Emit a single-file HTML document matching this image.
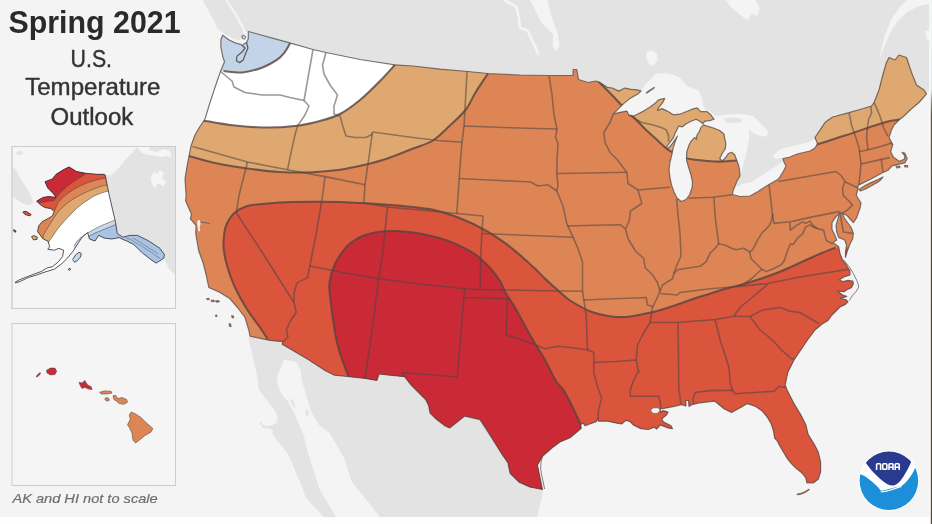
<!DOCTYPE html>
<html><head><meta charset="utf-8"><title>Spring 2021 U.S. Temperature Outlook</title>
<style>html,body{margin:0;padding:0;background:#fff;}body{width:932px;height:524px;overflow:hidden;}svg{display:block;font-family:"Liberation Sans",sans-serif;}</style></head><body>
<svg width="932" height="524" viewBox="0 0 932 524">
<defs>
<filter id="soft" x="-2%" y="-2%" width="104%" height="104%"><feGaussianBlur stdDeviation="0.5"/></filter>
<clipPath id="us"><path d="M222.7 35.2 L228.7 39.7 L235.1 42.9 L240.6 44.3 L242.4 45.7 L244.5 43.5 L246.5 42.5 L248.3 38.8 L248.3 31.5 L269.7 37.3 L289.6 42.9 L313 49.5 L326 52.5 L360 59.5 L395 64.8 L413 66 L440 69.2 L468 71.5 L488 73.5 L520 75 L549 75.5 L573 75.3 L573.2 69.5 L576.8 69.5 L578.5 79.5 L588 82.5 L596 81 L600 82.4 L607.5 87.4 L612.4 88 L618.7 91.1 L624.9 88 L631.1 89.3 L637.3 89.9 L641.1 91.1 L637.3 94.3 L629.9 98.6 L623.6 103.6 L618.7 108.6 L613.1 114.2 L619.9 112.3 L626.8 111.1 L628.6 114.8 L633.6 116 L637.3 114.2 L643.6 111.1 L649.8 107.3 L654.8 103.6 L658.5 99.9 L664.7 98.4 L662.9 102.3 L658.5 107.9 L657.3 110.4 L662.2 108.6 L667.2 111.1 L673.4 114.8 L679.7 114.2 L685.9 111.7 L692.1 109.2 L697.1 107.9 L700.8 111.7 L707 111.7 L710.8 114.8 L714.1 119.3 L709.8 120.6 L704.8 121.2 L702.9 123.7 L699.8 121.2 L696.1 119.3 L691.1 121.2 L686.1 123.7 L682.4 126.8 L678.6 126.2 L676.8 129.9 L674.9 133.6 L673.7 137.4 L669.9 142.3 L666.2 147.3 L668.1 148.6 L672.4 143.6 L676.2 138 L677.4 136.1 L674.9 142.3 L673 148.6 L671.8 154.8 L670 162 L669 170 L670 178 L671.5 185 L674 192 L677 198 L681.2 201.5 L686 199.5 L689.5 195 L692 188 L692.5 182 L691 175 L688.5 167 L686.5 160 L686.7 152.3 L688.6 146.1 L691.1 141.1 L694.8 137.4 L696.3 139.5 L697 135 L699.2 131.8 L701 127.4 L703.5 124.9 L707.3 126.2 L713.5 128 L719.7 130.5 L724.1 134.3 L724.7 138.6 L725.9 143.6 L725.3 148.6 L722.2 153.5 L719.7 158.5 L722.2 161 L725.9 157.3 L728.4 153.5 L731.5 152.3 L734.7 154.8 L736.5 159.8 L738.4 164.7 L739.6 170 L740 176 L737 181 L735 186 L733 191 L732.5 194.5 L740 196.5 L750 196 L758 191.5 L765 187 L769 184.5 L778.5 179 L783 172 L786 166 L784 162 L783 158.5 L790 157 L797 154 L810 151 L815 148 L817.5 143.7 L815 137.5 L819.8 130.4 L825.5 121.9 L832.6 117 L849 112.7 L860 109.5 L871.5 106 L874 102.5 L879 90 L882.8 75 L886.5 62.5 L889 57.5 L895 60 L899 55 L906.5 57.5 L911.5 72.5 L916.5 85 L924 90 L926.5 93.8 L919 102.5 L911.5 108.8 L904 116 L899 120 L894 125 L891.5 130 L889 137.5 L892.8 144.6 L890.7 151.7 L893.5 157.3 L899.2 161.3 L904.3 159.2 L905 156 L902 152.4 L904.8 153.2 L907.2 158.5 L905 162.8 L897.7 164.4 L892.1 165.8 L890 168 L887.8 170.5 L883 172.5 L871 179 L858 185.4 L858 188 L856.3 195.5 L861 203 L860.1 208 L856.8 217.4 L853.4 222.7 L850.5 219.5 L847 215.5 L842 213.4 L844.7 218.7 L848.7 224 L851.4 228 L853.4 233.4 L852.7 238.7 L850 244.1 L847.4 250.8 L845.4 257.4 L845.6 250.8 L846.6 245.4 L844.7 240 L838.7 237.4 L836.7 232 L836 225.4 L838 218.7 L839.4 213.4 L835.4 217.4 L832 222.7 L832 229.4 L834.7 234.7 L836.7 240 L833 242.5 L838.7 246.8 L840 253.4 L842 258.8 L844.7 262.8 L846.8 265.7 L850 271 L850 275 L844 277 L839.4 279.7 L842.7 281.7 L848 280.4 L852.8 281 L853.4 283.7 L851.4 287.7 L846.8 289.7 L844 291.7 L837.4 291 L842.7 295 L846.8 296.4 L840 298.4 L846 299.7 L848 301.8 L845.4 304.4 L840 307 L836 311 L832 315 L828 320.5 L822.5 323.8 L815 330 L807.5 340 L802.5 347.5 L794 360 L787.8 372.5 L785.2 385 L787.1 389.9 L793.3 402.3 L800.8 414.7 L805.8 424.7 L808.2 434.6 L814.4 444.5 L818.2 452 L820.6 461.9 L820.6 471.8 L818.2 479.3 L813.2 483 L807 483 L805.8 478 L802 473 L795.8 468.1 L790.9 463.1 L787.1 458.2 L783.4 452 L779.7 445.8 L777.2 440.8 L774.7 438.3 L773.5 430.9 L771 423.4 L767.3 417.2 L762.3 411 L754.9 406.1 L747.4 403.6 L741.5 407 L731.5 412.5 L724 408.8 L715 401.2 L710 401.6 L698.1 403.1 L692 404.6 L689 406.5 L688.5 400.5 L685.8 400.5 L686 406 L681.5 404.6 L675.5 406.1 L668 407.6 L660.4 409 L660.4 412.1 L663.4 410.6 L668 412.1 L666.4 415.1 L661.9 418.9 L663.4 421.9 L671 425.7 L672.5 428.7 L668 427.9 L660.4 424.9 L656.6 429 L654.4 427.2 L648.4 429.5 L640.8 428.7 L633.3 424.9 L630 421.5 L625.8 420.4 L622 423.8 L618.2 423.4 L607.7 421.2 L598.5 421.2 L597.6 418.2 L596.6 421.4 L585 425.7 L583.3 423.2 L580.8 424.5 L581.2 428.2 L579 430.2 L570 437.7 L560 442 L552.5 447.5 L542.5 456.2 L537.5 465 L540 477.5 L542.5 489.5 L529.7 486.9 L519.2 482.3 L510.1 473.3 L507.9 462.7 L502.6 455.2 L495.1 443.2 L487.5 431.1 L480 419.6 L464.7 416.1 L457.2 422.1 L449.7 428 L445.2 425.9 L436.1 419.1 L430.1 413.1 L428.6 405.6 L425.6 399.6 L418.1 392 L410.6 384.5 L404.6 376.7 L390 375.2 L379 374 L376.9 380.4 L365.3 378.4 L347.3 376.5 L334.4 375.2 L325.4 370.7 L308.6 359.8 L282.2 344.3 L282.9 341.7 L270 340.4 L250 336.2 L248.8 330 L245 317.5 L237.5 307.5 L230 298.8 L220 292.5 L208.8 287.5 L206.2 275 L203 262.5 L198.8 251 L196.6 238.9 L195.7 233.2 L196.1 225.5 L193.7 222.7 L190.4 218.9 L191.4 214.1 L188.5 207.4 L185.6 200.7 L186.1 195 L185 178.5 L187.5 163.5 L191 146 L195 135 L199 128 L205 119 L210 102.5 L217.5 80 L220.4 71.8 L222.7 66.3 L224.5 61.7 L222.7 56.2 L220.9 47.1 L220.9 39.7Z M859 189.5 L865 185.5 L871 182.6 L878 179.5 L883 177 L880 180.5 L878.5 181.7 L872 185.5 L865.5 189 L860.5 191Z M896 166.3 L899.5 166 L900 167.5 L897 168Z M904.5 165.5 L907.5 165.5 L907.8 167 L905 167Z"/></clipPath>
<clipPath id="map"><rect x="-6" y="-6" width="935.5" height="523"/></clipPath>
<clipPath id="akbox"><rect x="12" y="146.5" width="163.5" height="162"/></clipPath>
<clipPath id="ak"><path d="M69.1 166.9 L76.5 171.5 L85.8 173.3 L96.9 174.3 L104.3 174.3 L105.2 175.2 L108.9 193.7 L113.6 214.1 L115.4 221.5 L117.3 233.5 L122.8 237.2 L130.2 235.4 L137.6 235.4 L148.7 240.9 L159.9 248.3 L164.5 254.8 L163.5 258.5 L156.1 263.1 L150.6 259.4 L141.3 252 L133.9 244.6 L126.5 240.9 L122.8 239.4 L119.1 237.6 L111.7 239 L104.3 238.1 L98.7 235.4 L95 241 L89.5 239 L87.6 232.6 L82.1 237.2 L78.4 242.8 L72.8 251.5 L67.3 258.2 L61.7 263.8 L54.3 269.2 L45 272 L36 275.2 L28.4 277.5 L20 281.5 L15.4 283 L15.4 282 L19.1 280 L26.5 277 L33.9 274.2 L41.3 271.5 L46.9 268 L52.4 266.8 L58 262.2 L62.6 256.7 L63.6 250.2 L58.9 248.3 L54.3 250.2 L47.8 249.3 L49.7 246.5 L47.8 241 L43.2 239 L37.6 231.7 L38.6 226.1 L42.3 221.5 L47.8 218.7 L52.4 215.9 L54.3 211.3 L50.6 208.5 L45 207.6 L40.4 204.8 L36.7 201.1 L43.2 197.4 L48.7 196.5 L56.1 197.4 L53.4 193.7 L47.8 188.1 L45 181.7 L52.4 178.9 L56.1 174.3 L63.6 169.6Z M72.7 259.5 L75.5 255 L79 252.3 L81.3 253.5 L80.5 257 L77.5 260.5 L74.5 262.3Z M22.8 212 L26 211.3 L31.1 214.5 L30 215.9 L25 214.5Z M13.4 229.8 L15.6 230.4 L16 232.2 L14 231.6Z M31.5 236.6 L34 235.6 L37.3 237 L37 239.4 L33.5 239.9Z M68.3 269 L70 268.3 L70.6 269.6 L69 270.4Z"/></clipPath>
</defs>
<rect width="932" height="524" fill="#fefefe"/>
<g filter="url(#soft)">
<rect x="-6" y="-6" width="944" height="536" fill="#fefefe"/>
<g clip-path="url(#map)">
<rect x="-6" y="-6" width="944" height="536" fill="#f4f4f4"/>
<path d="M199 -6 L938 -6 L938 88 L932 88 L926.5 92.5 L915 100 L880 110 L850 120 L835 125 L822 128 L819 133 L816.2 137.8 L809.3 142 L798.1 144.8 L787 147.6 L778.6 150.3 L773 155.9 L775.8 158.7 L783.5 158 L785.6 160.1 L778.6 164.3 L770.2 169.9 L761.8 175.4 L750.7 182.4 L742.3 183.8 L738 187 L736 185 L737.5 180 L740.9 174 L743 165.7 L746.5 153 L748 145 L749.5 136.8 L748.8 129.9 L753 132.7 L758.6 135.4 L765.6 136.8 L769 132.7 L765.6 128.5 L758.6 121.5 L753 116 L741.8 113.8 L727.9 114.5 L715.3 116 L712 113 L708 110.5 L707 111.7 L703.3 106.1 L702.1 97.4 L698.3 89.9 L687.1 86.2 L680.9 78.7 L674.7 75 L664.7 73.1 L656 73.7 L649.8 79.9 L644.8 84.9 L641.1 91.1 L630 95 L600 90 L575 82 L573 78 L500 80 L400 70 L300 50 L248 36 L247.9 31.7 L244.5 33 L243 37 L240 40.5 L234 39 L226 34.5 L218 29 L212 17 L207 8 L202.5 0Z" fill="#e3e3e3"/>
<path d="M248.7 338.8 L250 330 L300 330 L400 360 L470 410 L536 482 L543.4 489.7 L540 505 L537 517 L380 517 L368 502 L352 482 L344 458 L330 433.6 L319.1 425.1 L311.5 412.2 L307.3 399.3 L305.1 390.7 L301.5 380 L301 370 L296 362 L284 359.5 L277.8 375 L277.2 380 L278.3 386.4 L281.5 394 L287.9 401.5 L293.3 411.1 L296.5 418.6 L299.7 426.1 L304 436 L306 446 L312 466 L320 490 L336 517 L324 517 L306 498 L300 482 L288 454 L272 434 L273 430 L270 428.5 L263 428 L259.5 423 L260.5 421.5 L264 425.5 L270 426 L276.5 423 L277.7 417.6 L275.1 411.1 L269.7 403.6 L263.3 396.1 L258.4 388.6 L257.9 380 L254 362Z" fill="#e3e3e3"/>
<path d="M722 -6 L725.7 0 L731.7 8 L741.6 16 L747.6 20 L751.6 14 L757.6 16 L759.6 8 L755.6 0 L754 -6Z" fill="#f4f4f4"/>
<path d="M647 52 L652 50 L657 54 L657.5 61 L653 66 L648 63 L646 57Z" fill="#f4f4f4"/>
<path d="M528 -6 L546 -6 L547.4 0 L552 18.4 L557.7 33.3 L559.5 45.9 L555.4 51.7 L552.6 45.9 L553.1 34.4 L548.6 29.9 L541.7 23 L535.9 11.5 L530.2 0Z" fill="#f4f4f4"/>
<path d="M912 -6 L907 0 L899 8 L891 20 L885 35 L880 55 L879 60 L883 50 L889 35 L897 22 L907 12 L919 6 L932 3 L938 2 L938 -6Z" fill="#f4f4f4"/>
<path d="M925 31 L932 30 L932 41 L927 40Z" fill="#f4f4f4"/>
<path d="M222 -6 L226.1 0 L236.1 14.9 L243.5 28.6 L246 36.1" fill="none" stroke="#f4f4f4" stroke-width="2.2" stroke-linecap="round" stroke-linejoin="round"/>
<path d="M500 -4 L506 1 L516.4 6.9 L518.7 17.2 L519.9 27.6 L527.9 31 L531.3 39 L535.9 48.2 L538.2 54" fill="none" stroke="#f4f4f4" stroke-width="2.6" stroke-linecap="round" stroke-linejoin="round"/>
<path d="M817.5 136 L823 127.5 L829 120.5 L836 114.5" fill="none" stroke="#f4f4f4" stroke-width="1.6" stroke-linecap="round" stroke-linejoin="round"/>
<path d="M290 399.5 L291.5 398.8 L294 402 L295.6 407 L294.5 408 L292 404.5Z" fill="#e3e3e3"/>
<path d="M305.2 410 L307.5 409 L309 412.5 L308 416.5 L305.8 415Z" fill="#e3e3e3"/>
<path d="M723.7 119 L730 117.5 L738 118 L743.2 120 L740 122.5 L732 122.9 L726 122Z" fill="#e3e3e3"/>
<g clip-path="url(#us)">
<rect width="932" height="524" fill="#de8556"/>
<path d="M189 156 C193.8 157.2 207.8 161.4 217.5 163.5 C227.2 165.6 237.1 167.1 247.5 168.5 C257.9 169.9 269.2 171.4 280 172 C290.8 172.6 302.5 172.7 312.5 172.3 C322.5 171.9 331.2 171 340 169.8 C348.8 168.5 357.1 166.6 365 164.8 C372.9 162.9 379.5 161.2 387.5 158.5 C395.5 155.8 405.4 151.5 413 148.5 C420.6 145.5 426.8 144.4 433 140.5 C439.2 136.6 445.1 130.1 450.5 125 C455.9 119.9 461.3 115.4 465.5 110 C469.7 104.6 471.8 98.6 475.5 92.5 C479.2 86.4 485.9 76.7 488 73.5 L488 0 L150 0 L150 156Z" fill="#dfa86f"/>
<path d="M203 120.5 C207.5 121.2 220.1 123.8 230 125 C239.9 126.2 251.7 127.3 262.5 127.5 C273.3 127.7 285.4 127.1 295 126 C304.6 124.9 312.5 123 320 121 C327.5 119 333.3 117.5 340 114 C346.7 110.5 353.3 105.5 360 100 C366.7 94.5 374.2 86.9 380 81 C385.8 75.1 392.5 67.5 395 64.8 L395 0 L150 0 L150 120Z" fill="#ffffff"/>
<path d="M223.5 71 C226.7 71.2 236 73.1 242.5 72.5 C249 71.9 256.7 69.6 262.5 67.5 C268.3 65.4 273.4 62.2 277.1 59.7 C280.8 57.2 282.4 55.1 284.6 52.3 C286.8 49.5 289.3 44.5 290.2 42.9 L290 0 L150 0 L150 71Z" fill="#c4d4e8"/>
<path d="M598 81 C600.4 83.4 608.5 91.5 612.4 95.5 C616.3 99.5 617.7 101.2 621.2 104.8 C624.7 108.4 629.5 113.1 633.6 117.3 C637.8 121.5 642.5 126.5 646.1 130 C649.7 133.4 651.9 135.1 655 138 C658.1 140.9 662.3 145 665 147.3 C667.7 149.6 667.8 149.9 671.2 151.7 C674.6 153.5 681.6 156.6 685.5 157.9 C689.4 159.2 691.2 159.3 694.8 159.8 C698.4 160.3 703.1 160.7 707.3 161 C711.4 161.3 716 161.6 719.7 161.6 C723.4 161.6 726.8 161.2 729.7 161 C732.6 160.8 732.2 160.7 737.2 160.4 C742.2 160.1 751.2 160.4 760 159 C768.8 157.6 780.8 154.3 790 152 C799.2 149.7 807.2 147.3 815 145 C822.8 142.7 830 140.3 836.5 138.2 C843 136.1 847.5 134.7 853.8 132.6 C860 130.5 868.1 127.7 874 125.8 C879.9 123.9 884.7 122.4 889 121.3 C893.3 120.2 898.2 119.7 900 119.4 L932 119 L932 0 L598 0Z" fill="#dfa86f"/>
<path d="M267.5 339 C266.2 337.1 263.3 332.3 260 327.5 C256.7 322.7 251.7 316.7 247.5 310 C243.3 303.3 238.3 294.6 235 287.5 C231.7 280.4 229.4 273.8 227.5 267.5 C225.6 261.2 224.4 254.8 223.8 250 C223.1 245.2 223.4 242.5 223.8 238.5 C224.1 234.5 224.3 230.2 226 226 C227.7 221.8 230.2 216.8 233.8 213.5 C237.3 210.2 241.9 207.7 247.5 206 C253.1 204.3 260 204.2 267.5 203.5 C275 202.8 283.3 202.3 292.5 202 C301.7 201.7 312.1 201.6 322.5 201.8 C332.9 201.9 344.2 202.2 355 202.8 C365.8 203.2 377.8 204 387.5 204.8 C397.2 205.5 405.4 206.2 413 207 C420.6 207.8 426.8 208.5 433 209.8 C439.2 211 444.3 212.6 450.5 214.8 C456.7 216.9 464.7 220.2 470 222.5 C475.3 224.8 478.4 226.6 482.2 228.6 C486 230.6 488.9 232.2 492.7 234.6 C496.5 237 501 240.2 504.8 242.9 C508.6 245.7 511.8 248.2 515.3 251.1 C518.8 254 522.3 257.1 525.8 260.2 C529.3 263.3 533.1 266.9 536.4 270 C539.7 273.1 542.4 276.1 545.4 279 C548.4 281.9 551.7 284.8 554.5 287.3 C557.3 289.8 559.4 291.8 562 294 C564.6 296.2 565.3 297.6 570 300.5 C574.7 303.4 583.3 308.6 590 311.2 C596.7 313.9 604 315.3 610 316.2 C616 317.2 621 317.3 626 317 C631 316.7 635.1 315.6 640 314.7 C644.9 313.8 650.1 312.8 655.1 311.5 C660.1 310.2 665.1 308.6 670.1 307 C675.1 305.4 680.2 303.4 685.2 301.7 C690.2 300 695.3 298.2 700.3 296.6 C705.3 295 710.3 293.4 715.3 291.9 C720.3 290.4 725.4 289 730.4 287.6 C735.4 286.2 740.5 284.9 745.5 283.4 C750.5 281.9 754.9 280.7 760.6 278.8 C766.4 276.9 772.5 274.9 780 271.8 C787.5 268.7 798.7 263.4 805.5 260.3 C812.3 257.2 815.6 255.6 820.6 253.5 C825.6 251.4 833.1 248.5 835.6 247.5 L932 246 L932 524 L267 524Z" fill="#db543e"/>
<path d="M348.8 377 C348.2 375.4 346.6 372 345 367.5 C343.4 363 340.7 355.8 339 350 C337.3 344.2 336.4 340.8 335 332.5 C333.6 324.2 331.4 308.3 330.5 300 C329.6 291.7 328.8 288.3 329.5 282.5 C330.2 276.7 332.2 270.2 334.5 265 C336.8 259.8 340.4 254.6 343 251 C345.6 247.4 346.8 246 350 243.5 C353.2 241 357.9 237.9 362.5 236 C367.1 234.1 372.1 232.8 377.5 232 C382.9 231.2 389.1 230.9 395 231 C400.9 231.1 407.7 231.8 413 232.5 C418.3 233.2 422.5 234 427 235 C431.5 236 435.3 236.9 440 238.3 C444.7 239.7 450 241.5 455 243.6 C460 245.7 465.8 248.6 470.1 251.1 C474.4 253.6 477.2 255.7 480.7 258.7 C484.2 261.7 487.9 265.4 491.2 269.2 C494.4 273 497.7 277.2 500.2 281.3 C502.7 285.4 503.8 289.5 506.3 293.9 C508.8 298.3 511.1 300.6 515 307.5 C519 314.4 525 326.2 530 335 C535 343.8 540.7 352.3 545 360 C549.3 367.7 552.7 375.6 556 381 C559.3 386.4 561.4 386.4 565 392.5 C568.6 398.6 574.8 411.8 577.5 417.5 C580.2 423.2 580.8 425.4 581.5 427 L581 524 L348 524Z" fill="#c92b35"/>
<g fill="none" stroke="#4a4644" stroke-opacity="0.55" stroke-width="1.6" stroke-linejoin="round">
<path d="M220 71 L226 76 L232 81 L234 87 L245 92.5 L262 95 L280 95 L290 97.5 L304 100.5"/>
<path d="M313 49.5 L308.5 75 L304 100.5"/>
<path d="M304 100.5 L309 106 L305 115 L297.5 126 L295 135 L290.5 155 L287.5 169.8"/>
<path d="M326 52.5 L322.5 65 L324 74 L330 85 L337.5 95 L334 106 L334 114 L340 116 L342.5 125 L346 136 L355 137.5 L366 137.5 L372.5 134"/>
<path d="M372.5 132 L368.5 160 L365 184.8 L363.8 203"/>
<path d="M372.5 132 L413 137.5 L438 140.5 L462 142.3"/>
<path d="M192.5 146.5 L247.5 162 L287.5 169.8 L325 176.6 L365 184.8"/>
<path d="M247.5 162 L239.1 195 L236.3 212.8 L263.8 255 L294 302.5"/>
<path d="M325 176.6 L322.7 195 L316.5 232 L312 255 L309.8 266 L307.5 277.6 L297 282.9 L294 292.7 L294 302.5"/>
<path d="M294 302.5 L296.2 312.3 L290.2 321.3 L286.4 330.3 L288 337 L282.9 341.7"/>
<path d="M363.8 203 L387.5 207 L456.8 213.5"/>
<path d="M387.5 207 L385 231 L382.5 255 L378.8 278.8"/>
<path d="M309.8 266 L345 273 L378.8 278.8 L420 284 L465 288.8 L480 289.5 L507.5 290 L545 290.8 L582.5 291.2"/>
<path d="M378.8 278.8 L372 330 L365.3 378.4"/>
<path d="M467 71.5 L465.5 100 L464 126 L462 142.3 L460.5 160 L459.2 178.5 L456.8 213.5"/>
<path d="M464 126 L510 127.8 L557 129"/>
<path d="M459.2 178.5 L500 180.5 L530.5 182 L538 186 L548 184.8 L556.8 191"/>
<path d="M456.8 213.5 L483 216 L481.8 233.5"/>
<path d="M481.8 233.5 L530 235.5 L573 237.2"/>
<path d="M481.8 233.5 L480.5 262 L480 289.5"/>
<path d="M549 75.5 L552 95 L554 115 L557 129 L555.5 137.5 L558 143.5 L557 160 L556.8 173.5 L558 184.8 L556.8 191 L563 206 L566.8 223.5 L573 237.2 L578 248.5 L582.5 262 L582.5 291.2"/>
<path d="M556.8 173.5 L590 173 L626.5 172.2"/>
<path d="M566.8 226 L595 225.3 L620.5 224.8 L625.5 229"/>
<path d="M613.1 114.2 L610 122.5 L603.8 132.5 L605 142.5 L610 152.5 L617.5 160 L625 170 L626.8 172.2"/>
<path d="M626.8 172.2 L628 183.5 L638 190 L641.8 203.5 L630.5 211 L629.2 221 L625.5 229 L628 238.5 L635.5 251 L643.8 258.5 L645 267.5 L652.5 275 L657.5 282.5 L660 291.2 L656.2 300 L652.5 307.5 L650 322.5 L642.5 335 L637.5 345 L636.2 360 L638.8 372.5 L637.5 372.5 L632.5 383 L630.3 390 L630.3 396.3 L658.9 396.3 L661.2 408"/>
<path d="M638 190 L655 188.5 L670 187.2"/>
<path d="M628.6 114.8 L641.1 122.3 L652.3 124.7 L661.2 127.4 L666.2 129.9 L668.7 136.1 L668.5 141.5"/>
<path d="M676.5 199 L678.5 220 L680 233.5 L681 256 L677.5 263.5 L673.8 273.5"/>
<path d="M688.5 198.2 L712.5 197.2 L732.5 194.8"/>
<path d="M713.8 197.2 L715.5 220 L718.8 243.8"/>
<path d="M773 214 L771 222 L769.3 225.6 L761.8 233.2 L757.3 240.7 L752.7 249.7 L749.7 252 L743.7 248.2 L736.2 249.7 L731.6 248.2 L725.6 245.2 L718.8 243.7 L715.1 248.2 L710.5 252.7 L706 261.8 L700 266.3 L695 267 L685 268.5 L677.5 269.8 L673.8 273.5 L672.5 278.8 L662.5 285 L660 291.2"/>
<path d="M769 184.5 L770.8 200 L772.3 213.5 L773.8 223.4"/>
<path d="M773.8 223.4 L790.4 221.8 L810 217.4 L838.7 211.6 L842 213.4"/>
<path d="M778.5 181.5 L810 176 L836 171.5 L841.5 176"/>
<path d="M841.5 176 L845 181.7 L842.5 188 L843.3 195.5 L849 201 L852.5 205 L847 210.4 L842 213.4"/>
<path d="M845 181.7 L858 188"/>
<path d="M859 184.4 L861 164 L859 147.5 L855 135 L851.5 125 L849 112.5"/>
<path d="M861 164 L881.3 159.4 L889.6 157.6"/>
<path d="M881.3 159.4 L883 172"/>
<path d="M858.8 151.7 L869.4 149.5 L882.2 146 L890.7 143.2 L892.8 144.6"/>
<path d="M870.8 106.3 L871.5 113.4 L868.7 119 L867.7 125.5 L866.6 137.5 L868 149.8"/>
<path d="M873.7 102.1 L876.5 107.7 L880 116.2 L883.6 127.6 L887.8 136.1"/>
<path d="M749.7 252 L751.2 258.8 L757.3 264.8 L761.8 269.3 L757 273.5 L751.2 279 L745 283 L738.8 286.5"/>
<path d="M761.8 269.3 L766.3 271.6 L772.3 269.3 L781.4 264.8 L784.4 260.3 L787.4 251.2 L790.4 243.7 L793 244.5 L798 237.7 L802.5 233.9 L805.5 227.1 L810 224.9 L813 227.1 L817.5 228.6"/>
<path d="M789.7 222.6 L790.4 230.1 L796.4 225.6 L802.5 221.9 L805.5 223.4 L810 221.1 L813 225.5 L817.5 228.6"/>
<path d="M817.5 228.6 L823.6 230.1 L825.1 236.2 L826.6 240.7 L832.6 243.7"/>
<path d="M840 213.4 L843.4 232 L852.7 233.4"/>
<path d="M660 293.5 L677.5 295 L680 292.5 L710 288.7 L738.8 286.5 L767.5 283.5 L800 277 L848.5 269.3"/>
<path d="M767.5 284.5 L755 295 L740 307.5 L733.8 316.2"/>
<path d="M650 322.5 L677.5 322.5 L715 319.5 L733.8 316.2"/>
<path d="M733.8 316.2 L750 316.5 L762.5 310 L780 307.5 L790 311.2 L800 312.5 L818.8 323.5"/>
<path d="M750 316.5 L760 330 L772.5 340 L781.5 350 L791.5 358.8 L795 359"/>
<path d="M678 322.5 L678.5 360 L678.8 388 L680.8 404"/>
<path d="M715 319.5 L720.2 340 L725 355 L729 367.5 L730.2 382.5 L732.5 391"/>
<path d="M693.8 404 L693 399 L695.1 392.5 L710 390.6 L732.5 390.2 L735 393.8 L774 391.2 L779 386.2 L785.5 387.5"/>
<path d="M583.8 300 L620 298.5 L646.2 297.5 L647.5 305 L653 306.5"/>
<path d="M582.5 291.2 L583.8 300 L586.2 315 L587.5 350"/>
<path d="M593.8 362.5 L615 361.5 L636.2 360"/>
<path d="M587.5 350 L593.8 352.5 L593.8 372.5 L597.1 385 L601.6 398.6 L598.6 409.1 L597.9 419.7"/>
<path d="M506.2 335 L515 337.5 L532.5 343.8 L545 348.8 L557.5 346.2 L570 347.5 L580 348.8 L587.5 350"/>
<path d="M465 288.8 L463.8 297.5 L507.5 298.8 L506.2 335"/>
<path d="M463.8 297.5 L461 335 L459.4 350 L457.2 377 L402.3 372.5 L404.6 376.7"/>
</g>
<g fill="none" stroke="#5a443e" stroke-opacity="0.82" stroke-width="2.05">
<path d="M223.5 71 C226.7 71.2 236 73.1 242.5 72.5 C249 71.9 256.7 69.6 262.5 67.5 C268.3 65.4 273.4 62.2 277.1 59.7 C280.8 57.2 282.4 55.1 284.6 52.3 C286.8 49.5 289.3 44.5 290.2 42.9"/>
<path d="M203 120.5 C207.5 121.2 220.1 123.8 230 125 C239.9 126.2 251.7 127.3 262.5 127.5 C273.3 127.7 285.4 127.1 295 126 C304.6 124.9 312.5 123 320 121 C327.5 119 333.3 117.5 340 114 C346.7 110.5 353.3 105.5 360 100 C366.7 94.5 374.2 86.9 380 81 C385.8 75.1 392.5 67.5 395 64.8"/>
<path d="M189 156 C193.8 157.2 207.8 161.4 217.5 163.5 C227.2 165.6 237.1 167.1 247.5 168.5 C257.9 169.9 269.2 171.4 280 172 C290.8 172.6 302.5 172.7 312.5 172.3 C322.5 171.9 331.2 171 340 169.8 C348.8 168.5 357.1 166.6 365 164.8 C372.9 162.9 379.5 161.2 387.5 158.5 C395.5 155.8 405.4 151.5 413 148.5 C420.6 145.5 426.8 144.4 433 140.5 C439.2 136.6 445.1 130.1 450.5 125 C455.9 119.9 461.3 115.4 465.5 110 C469.7 104.6 471.8 98.6 475.5 92.5 C479.2 86.4 485.9 76.7 488 73.5"/>
<path d="M598 81 C600.4 83.4 608.5 91.5 612.4 95.5 C616.3 99.5 617.7 101.2 621.2 104.8 C624.7 108.4 629.5 113.1 633.6 117.3 C637.8 121.5 642.5 126.5 646.1 130 C649.7 133.4 651.9 135.1 655 138 C658.1 140.9 662.3 145 665 147.3 C667.7 149.6 667.8 149.9 671.2 151.7 C674.6 153.5 681.6 156.6 685.5 157.9 C689.4 159.2 691.2 159.3 694.8 159.8 C698.4 160.3 703.1 160.7 707.3 161 C711.4 161.3 716 161.6 719.7 161.6 C723.4 161.6 726.8 161.2 729.7 161 C732.6 160.8 732.2 160.7 737.2 160.4 C742.2 160.1 751.2 160.4 760 159 C768.8 157.6 780.8 154.3 790 152 C799.2 149.7 807.2 147.3 815 145 C822.8 142.7 830 140.3 836.5 138.2 C843 136.1 847.5 134.7 853.8 132.6 C860 130.5 868.1 127.7 874 125.8 C879.9 123.9 884.7 122.4 889 121.3 C893.3 120.2 898.2 119.7 900 119.4"/>
<path d="M267.5 339 C266.2 337.1 263.3 332.3 260 327.5 C256.7 322.7 251.7 316.7 247.5 310 C243.3 303.3 238.3 294.6 235 287.5 C231.7 280.4 229.4 273.8 227.5 267.5 C225.6 261.2 224.4 254.8 223.8 250 C223.1 245.2 223.4 242.5 223.8 238.5 C224.1 234.5 224.3 230.2 226 226 C227.7 221.8 230.2 216.8 233.8 213.5 C237.3 210.2 241.9 207.7 247.5 206 C253.1 204.3 260 204.2 267.5 203.5 C275 202.8 283.3 202.3 292.5 202 C301.7 201.7 312.1 201.6 322.5 201.8 C332.9 201.9 344.2 202.2 355 202.8 C365.8 203.2 377.8 204 387.5 204.8 C397.2 205.5 405.4 206.2 413 207 C420.6 207.8 426.8 208.5 433 209.8 C439.2 211 444.3 212.6 450.5 214.8 C456.7 216.9 464.7 220.2 470 222.5 C475.3 224.8 478.4 226.6 482.2 228.6 C486 230.6 488.9 232.2 492.7 234.6 C496.5 237 501 240.2 504.8 242.9 C508.6 245.7 511.8 248.2 515.3 251.1 C518.8 254 522.3 257.1 525.8 260.2 C529.3 263.3 533.1 266.9 536.4 270 C539.7 273.1 542.4 276.1 545.4 279 C548.4 281.9 551.7 284.8 554.5 287.3 C557.3 289.8 559.4 291.8 562 294 C564.6 296.2 565.3 297.6 570 300.5 C574.7 303.4 583.3 308.6 590 311.2 C596.7 313.9 604 315.3 610 316.2 C616 317.2 621 317.3 626 317 C631 316.7 635.1 315.6 640 314.7 C644.9 313.8 650.1 312.8 655.1 311.5 C660.1 310.2 665.1 308.6 670.1 307 C675.1 305.4 680.2 303.4 685.2 301.7 C690.2 300 695.3 298.2 700.3 296.6 C705.3 295 710.3 293.4 715.3 291.9 C720.3 290.4 725.4 289 730.4 287.6 C735.4 286.2 740.5 284.9 745.5 283.4 C750.5 281.9 754.9 280.7 760.6 278.8 C766.4 276.9 772.5 274.9 780 271.8 C787.5 268.7 798.7 263.4 805.5 260.3 C812.3 257.2 815.6 255.6 820.6 253.5 C825.6 251.4 833.1 248.5 835.6 247.5"/>
<path d="M348.8 377 C348.2 375.4 346.6 372 345 367.5 C343.4 363 340.7 355.8 339 350 C337.3 344.2 336.4 340.8 335 332.5 C333.6 324.2 331.4 308.3 330.5 300 C329.6 291.7 328.8 288.3 329.5 282.5 C330.2 276.7 332.2 270.2 334.5 265 C336.8 259.8 340.4 254.6 343 251 C345.6 247.4 346.8 246 350 243.5 C353.2 241 357.9 237.9 362.5 236 C367.1 234.1 372.1 232.8 377.5 232 C382.9 231.2 389.1 230.9 395 231 C400.9 231.1 407.7 231.8 413 232.5 C418.3 233.2 422.5 234 427 235 C431.5 236 435.3 236.9 440 238.3 C444.7 239.7 450 241.5 455 243.6 C460 245.7 465.8 248.6 470.1 251.1 C474.4 253.6 477.2 255.7 480.7 258.7 C484.2 261.7 487.9 265.4 491.2 269.2 C494.4 273 497.7 277.2 500.2 281.3 C502.7 285.4 503.8 289.5 506.3 293.9 C508.8 298.3 511.1 300.6 515 307.5 C519 314.4 525 326.2 530 335 C535 343.8 540.7 352.3 545 360 C549.3 367.7 552.7 375.6 556 381 C559.3 386.4 561.4 386.4 565 392.5 C568.6 398.6 574.8 411.8 577.5 417.5 C580.2 423.2 580.8 425.4 581.5 427"/>
</g>
</g>
<path d="M222.7 35.2 L228.7 39.7 L235.1 42.9 L240.6 44.3 L242.4 45.7 L244.5 43.5 L246.5 42.5 L248.3 38.8 L248.3 31.5 L269.7 37.3 L289.6 42.9 L313 49.5 L326 52.5 L360 59.5 L395 64.8 L413 66 L440 69.2 L468 71.5 L488 73.5 L520 75 L549 75.5 L573 75.3 L573.2 69.5 L576.8 69.5 L578.5 79.5 L588 82.5 L596 81 L600 82.4 L607.5 87.4 L612.4 88 L618.7 91.1 L624.9 88 L631.1 89.3 L637.3 89.9 L641.1 91.1 L637.3 94.3 L629.9 98.6 L623.6 103.6 L618.7 108.6 L613.1 114.2 L619.9 112.3 L626.8 111.1 L628.6 114.8 L633.6 116 L637.3 114.2 L643.6 111.1 L649.8 107.3 L654.8 103.6 L658.5 99.9 L664.7 98.4 L662.9 102.3 L658.5 107.9 L657.3 110.4 L662.2 108.6 L667.2 111.1 L673.4 114.8 L679.7 114.2 L685.9 111.7 L692.1 109.2 L697.1 107.9 L700.8 111.7 L707 111.7 L710.8 114.8 L714.1 119.3 L709.8 120.6 L704.8 121.2 L702.9 123.7 L699.8 121.2 L696.1 119.3 L691.1 121.2 L686.1 123.7 L682.4 126.8 L678.6 126.2 L676.8 129.9 L674.9 133.6 L673.7 137.4 L669.9 142.3 L666.2 147.3 L668.1 148.6 L672.4 143.6 L676.2 138 L677.4 136.1 L674.9 142.3 L673 148.6 L671.8 154.8 L670 162 L669 170 L670 178 L671.5 185 L674 192 L677 198 L681.2 201.5 L686 199.5 L689.5 195 L692 188 L692.5 182 L691 175 L688.5 167 L686.5 160 L686.7 152.3 L688.6 146.1 L691.1 141.1 L694.8 137.4 L696.3 139.5 L697 135 L699.2 131.8 L701 127.4 L703.5 124.9 L707.3 126.2 L713.5 128 L719.7 130.5 L724.1 134.3 L724.7 138.6 L725.9 143.6 L725.3 148.6 L722.2 153.5 L719.7 158.5 L722.2 161 L725.9 157.3 L728.4 153.5 L731.5 152.3 L734.7 154.8 L736.5 159.8 L738.4 164.7 L739.6 170 L740 176 L737 181 L735 186 L733 191 L732.5 194.5 L740 196.5 L750 196 L758 191.5 L765 187 L769 184.5 L778.5 179 L783 172 L786 166 L784 162 L783 158.5 L790 157 L797 154 L810 151 L815 148 L817.5 143.7 L815 137.5 L819.8 130.4 L825.5 121.9 L832.6 117 L849 112.7 L860 109.5 L871.5 106 L874 102.5 L879 90 L882.8 75 L886.5 62.5 L889 57.5 L895 60 L899 55 L906.5 57.5 L911.5 72.5 L916.5 85 L924 90 L926.5 93.8 L919 102.5 L911.5 108.8 L904 116 L899 120 L894 125 L891.5 130 L889 137.5 L892.8 144.6 L890.7 151.7 L893.5 157.3 L899.2 161.3 L904.3 159.2 L905 156 L902 152.4 L904.8 153.2 L907.2 158.5 L905 162.8 L897.7 164.4 L892.1 165.8 L890 168 L887.8 170.5 L883 172.5 L871 179 L858 185.4 L858 188 L856.3 195.5 L861 203 L860.1 208 L856.8 217.4 L853.4 222.7 L850.5 219.5 L847 215.5 L842 213.4 L844.7 218.7 L848.7 224 L851.4 228 L853.4 233.4 L852.7 238.7 L850 244.1 L847.4 250.8 L845.4 257.4 L845.6 250.8 L846.6 245.4 L844.7 240 L838.7 237.4 L836.7 232 L836 225.4 L838 218.7 L839.4 213.4 L835.4 217.4 L832 222.7 L832 229.4 L834.7 234.7 L836.7 240 L833 242.5 L838.7 246.8 L840 253.4 L842 258.8 L844.7 262.8 L846.8 265.7 L850 271 L850 275 L844 277 L839.4 279.7 L842.7 281.7 L848 280.4 L852.8 281 L853.4 283.7 L851.4 287.7 L846.8 289.7 L844 291.7 L837.4 291 L842.7 295 L846.8 296.4 L840 298.4 L846 299.7 L848 301.8 L845.4 304.4 L840 307 L836 311 L832 315 L828 320.5 L822.5 323.8 L815 330 L807.5 340 L802.5 347.5 L794 360 L787.8 372.5 L785.2 385 L787.1 389.9 L793.3 402.3 L800.8 414.7 L805.8 424.7 L808.2 434.6 L814.4 444.5 L818.2 452 L820.6 461.9 L820.6 471.8 L818.2 479.3 L813.2 483 L807 483 L805.8 478 L802 473 L795.8 468.1 L790.9 463.1 L787.1 458.2 L783.4 452 L779.7 445.8 L777.2 440.8 L774.7 438.3 L773.5 430.9 L771 423.4 L767.3 417.2 L762.3 411 L754.9 406.1 L747.4 403.6 L741.5 407 L731.5 412.5 L724 408.8 L715 401.2 L710 401.6 L698.1 403.1 L692 404.6 L689 406.5 L688.5 400.5 L685.8 400.5 L686 406 L681.5 404.6 L675.5 406.1 L668 407.6 L660.4 409 L660.4 412.1 L663.4 410.6 L668 412.1 L666.4 415.1 L661.9 418.9 L663.4 421.9 L671 425.7 L672.5 428.7 L668 427.9 L660.4 424.9 L656.6 429 L654.4 427.2 L648.4 429.5 L640.8 428.7 L633.3 424.9 L630 421.5 L625.8 420.4 L622 423.8 L618.2 423.4 L607.7 421.2 L598.5 421.2 L597.6 418.2 L596.6 421.4 L585 425.7 L583.3 423.2 L580.8 424.5 L581.2 428.2 L579 430.2 L570 437.7 L560 442 L552.5 447.5 L542.5 456.2 L537.5 465 L540 477.5 L542.5 489.5 L529.7 486.9 L519.2 482.3 L510.1 473.3 L507.9 462.7 L502.6 455.2 L495.1 443.2 L487.5 431.1 L480 419.6 L464.7 416.1 L457.2 422.1 L449.7 428 L445.2 425.9 L436.1 419.1 L430.1 413.1 L428.6 405.6 L425.6 399.6 L418.1 392 L410.6 384.5 L404.6 376.7 L390 375.2 L379 374 L376.9 380.4 L365.3 378.4 L347.3 376.5 L334.4 375.2 L325.4 370.7 L308.6 359.8 L282.2 344.3 L282.9 341.7 L270 340.4 L250 336.2 L248.8 330 L245 317.5 L237.5 307.5 L230 298.8 L220 292.5 L208.8 287.5 L206.2 275 L203 262.5 L198.8 251 L196.6 238.9 L195.7 233.2 L196.1 225.5 L193.7 222.7 L190.4 218.9 L191.4 214.1 L188.5 207.4 L185.6 200.7 L186.1 195 L185 178.5 L187.5 163.5 L191 146 L195 135 L199 128 L205 119 L210 102.5 L217.5 80 L220.4 71.8 L222.7 66.3 L224.5 61.7 L222.7 56.2 L220.9 47.1 L220.9 39.7Z M859 189.5 L865 185.5 L871 182.6 L878 179.5 L883 177 L880 180.5 L878.5 181.7 L872 185.5 L865.5 189 L860.5 191Z M896 166.3 L899.5 166 L900 167.5 L897 168Z M904.5 165.5 L907.5 165.5 L907.8 167 L905 167Z" fill="none" stroke="#4a4644" stroke-opacity="0.7" stroke-width="1.2" stroke-linejoin="round"/>
<path d="M197.5 220.5 L200 220 L200.6 224 L199.6 227 L200.2 231 L198.6 231.5 L197.8 227.5 L197.2 224Z" fill="#f4f4f4"/>
<path d="M650.6 410.3 L653 408 L658 407.8 L660.2 410.3 L657.5 413.2 L653 413.4Z" fill="#f4f4f4" stroke="#4a4644" stroke-opacity="0.55" stroke-width="0.8"/>
<g fill="none" stroke="#4a4644" stroke-opacity="0.75" stroke-width="0.9" stroke-linejoin="round">
<path d="M200.4 222 L205 222.6 L209.5 223.6"/>
<path d="M844 260.3 L849.4 267 L853.4 273.7 L857.4 281.7 L858.8 287 L856 291.7 L852.8 295 L849.4 300.4"/>
<path d="M542.3 456.8 L541 462 L540.6 468 L541.6 475 L543.2 482 L544.6 489"/>
<path d="M242.4 45.7 L245.1 48 L241.5 52.6 L236.9 56.2 L236.4 60.8 L239.6 62.6 L243.3 59.9 L245.6 53.5 L247.9 48 L246.5 42.5" stroke-width="1.3" stroke="#3a3a3a"/>
</g>
<path d="M241.8 36 L244 35.2 L246 37 L244.5 39.3 L242.5 38.5Z" fill="#c4d4e8" stroke="#4a4644" stroke-opacity="0.8" stroke-width="0.9"/>
<path d="M206.5 298.5 L209 298.3 L209.5 299.6 L207 299.8Z" fill="#a8674a" stroke="#4a4644" stroke-opacity="0.8" stroke-width="0.7"/>
<path d="M211 300.3 L214 300 L214.5 301.6 L211.5 301.8Z" fill="#a8674a" stroke="#4a4644" stroke-opacity="0.8" stroke-width="0.7"/>
<path d="M215.5 300.7 L219 300.6 L219.3 302 L216 302.2Z" fill="#a8674a" stroke="#4a4644" stroke-opacity="0.8" stroke-width="0.7"/>
<path d="M215.5 315 L217 315 L217 316.5 L215.5 316.5Z" fill="#a8674a" stroke="#4a4644" stroke-opacity="0.8" stroke-width="0.7"/>
<path d="M231.5 315.5 L233.3 315.8 L233.8 318 L232 317.8Z" fill="#a8674a" stroke="#4a4644" stroke-opacity="0.8" stroke-width="0.7"/>
<path d="M229 323.5 L230.8 324 L231.2 326.8 L229.4 326.5Z" fill="#a8674a" stroke="#4a4644" stroke-opacity="0.8" stroke-width="0.7"/>
<path d="M646.1 92.6 L650 89.8 L654.1 87.2 L654.5 88 L650.5 90.8 L646.6 93.4Z" fill="#9a7452" stroke="#4a4644" stroke-opacity="0.8" stroke-width="0.7"/>
<path d="M797 494 L801 493.2 L805 491.5 L809 489 L809.4 489.8 L805.4 492.4 L801.2 494.2 L797.2 494.9Z" fill="#db543e" stroke="#4a4644" stroke-opacity="0.8" stroke-width="0.7"/>
</g>
<rect x="12" y="146.5" width="163.5" height="162" fill="#f5f5f5" stroke="#cfcfcf" stroke-width="1"/>
<g clip-path="url(#akbox)">
<path d="M105.2 175.2 L111.7 175.2 L119.1 167.8 L126.5 158.5 L133.9 151.1 L137.6 146.5 L176 146.5 L176 276.1 L169.1 268.7 L164.5 259.4 L163.5 258.5 L164.5 254.8 L159.9 248.3 L148.7 240.9 L137.6 235.4 L130.2 235.4 L122.8 237.2 L117.3 233.5 L115.4 221.5 L113.6 214.1 L108.9 193.7Z" fill="#e3e3e3"/>
<path d="M12 166 L16 170 L21 179 L27 189 L32 198 L33.5 203 L29 205.5 L22 203 L16 199 L12 196Z" fill="#e3e3e3"/>
<path d="M16 152 L20 150.5 L23 152.5 L21 155 L17 155Z" fill="#e3e3e3"/>
<path d="M150.6 178 L154 172 L158 174 L160 170 L164 172.5 L162 178 L167 182 L163 186 L158 183 L155 188 L152 184Z" fill="#f5f5f5"/>
<path d="M137 146.5 L150 146.5 L149 150 L156 152 L164 149 L170 151 L172 158 L167 156 L160 157 L150 155 L142 153Z" fill="#f5f5f5"/>
<g clip-path="url(#ak)">
<rect x="0" y="140" width="186" height="180" fill="#ffffff"/>
<path d="M47.8 244 C48.2 243.3 49 241.5 50 240 C51 238.5 52.2 236.9 53.5 235 C54.8 233.1 56.2 230.8 58 228.5 C59.8 226.2 62 223.8 64 221.5 C66 219.2 68 217.1 70 215 C72 212.9 74 210.8 76 209 C78 207.2 80 205.5 82 204 C84 202.5 86.1 201.2 88 200 C89.9 198.8 91.2 197.6 93.2 196.5 C95.2 195.4 97.5 194.4 100 193.5 C102.5 192.6 106.5 191.5 108.5 191 C110.5 190.5 111.4 190.4 112 190.3 L122 140 L0 140 L0 254 Z" fill="#dfa86f"/>
<path d="M27 231.5 C28.3 231.9 32.5 232.8 35 234 C37.5 235.2 40.8 238.7 42.3 238.7 C43.8 238.7 43.1 235.8 44 234 C44.9 232.2 46.2 230.2 47.5 228 C48.8 225.8 50.4 223.4 52 221 C53.6 218.6 55 216 57 213.5 C59 211 61 208.6 64 206 C67 203.4 70.8 200.4 74.7 198 C78.6 195.6 83.3 193.4 87.6 191.5 C91.9 189.6 97.2 187.6 100.6 186.5 C104 185.4 106.3 185.2 108 184.8 C109.7 184.4 110.5 184.3 111 184.2 L121 140 L0 140 L0 241.5 Z" fill="#de8556"/>
<path d="M54.9 210.5 C55.2 209.8 55.7 207.7 56.5 206 C57.3 204.3 57.8 202.8 59.9 200.5 C62 198.2 65.4 195.1 69.1 192.5 C72.8 189.9 77.8 187 82.1 185 C86.4 183 91 181.5 95 180.3 C99 179.1 103.5 178.5 106 178 C108.5 177.5 109.3 177.6 110 177.5 L120 140 L0 140 L0 220.5 Z" fill="#db543e"/>
<path d="M34 204 C35.1 203.8 38.1 203.1 40.6 202.6 C43.1 202.1 46.9 201.4 49.2 201 C51.5 200.6 53.4 200.8 54.5 200.2 C55.6 199.6 54.5 199.3 56 197.5 C57.5 195.7 60.8 192.1 63.6 189.5 C66.4 186.9 69.7 184.2 72.8 182 C75.9 179.8 79.8 177.8 82.1 176.3 C84.4 174.8 85.8 173.7 86.5 173.2 L96.5 140 L0 140 L0 214 Z" fill="#c92b35"/>
<path d="M74 246 C74.8 244.9 76.4 241.7 78.7 239.5 C81 237.3 83.9 235.2 87.6 233 C91.2 230.8 96.1 228.2 100.6 226.1 C105.1 224 111.3 221.5 114.5 220.2 C117.7 218.8 119.1 218.4 120 218 L186 218 L186 320 L74 320 Z" fill="#c9d8ea"/>
<path d="M82 243 C82.7 242.2 84.3 239.9 86 238.5 C87.7 237.1 89.7 235.8 92 234.5 C94.3 233.2 97.7 232 100 231 C102.3 230 103.5 229.5 106.1 228.5 C108.7 227.5 112.8 225.9 115.4 224.8 C118.1 223.7 120.9 222.5 122 222 L186 222 L186 320 L82 320 Z" fill="#a9c4e2"/>
<g fill="none" stroke="#4a4644" stroke-opacity="0.8" stroke-width="0.7">
<path d="M47.8 244 C48.2 243.3 49 241.5 50 240 C51 238.5 52.2 236.9 53.5 235 C54.8 233.1 56.2 230.8 58 228.5 C59.8 226.2 62 223.8 64 221.5 C66 219.2 68 217.1 70 215 C72 212.9 74 210.8 76 209 C78 207.2 80 205.5 82 204 C84 202.5 86.1 201.2 88 200 C89.9 198.8 91.2 197.6 93.2 196.5 C95.2 195.4 97.5 194.4 100 193.5 C102.5 192.6 106.5 191.5 108.5 191 C110.5 190.5 111.4 190.4 112 190.3"/>
<path d="M27 231.5 C28.3 231.9 32.5 232.8 35 234 C37.5 235.2 40.8 238.7 42.3 238.7 C43.8 238.7 43.1 235.8 44 234 C44.9 232.2 46.2 230.2 47.5 228 C48.8 225.8 50.4 223.4 52 221 C53.6 218.6 55 216 57 213.5 C59 211 61 208.6 64 206 C67 203.4 70.8 200.4 74.7 198 C78.6 195.6 83.3 193.4 87.6 191.5 C91.9 189.6 97.2 187.6 100.6 186.5 C104 185.4 106.3 185.2 108 184.8 C109.7 184.4 110.5 184.3 111 184.2"/>
<path d="M54.9 210.5 C55.2 209.8 55.7 207.7 56.5 206 C57.3 204.3 57.8 202.8 59.9 200.5 C62 198.2 65.4 195.1 69.1 192.5 C72.8 189.9 77.8 187 82.1 185 C86.4 183 91 181.5 95 180.3 C99 179.1 103.5 178.5 106 178 C108.5 177.5 109.3 177.6 110 177.5"/>
<path d="M34 204 C35.1 203.8 38.1 203.1 40.6 202.6 C43.1 202.1 46.9 201.4 49.2 201 C51.5 200.6 53.4 200.8 54.5 200.2 C55.6 199.6 54.5 199.3 56 197.5 C57.5 195.7 60.8 192.1 63.6 189.5 C66.4 186.9 69.7 184.2 72.8 182 C75.9 179.8 79.8 177.8 82.1 176.3 C84.4 174.8 85.8 173.7 86.5 173.2"/>
<path d="M74 246 C74.8 244.9 76.4 241.7 78.7 239.5 C81 237.3 83.9 235.2 87.6 233 C91.2 230.8 96.1 228.2 100.6 226.1 C105.1 224 111.3 221.5 114.5 220.2 C117.7 218.8 119.1 218.4 120 218"/>
<path d="M82 243 C82.7 242.2 84.3 239.9 86 238.5 C87.7 237.1 89.7 235.8 92 234.5 C94.3 233.2 97.7 232 100 231 C102.3 230 103.5 229.5 106.1 228.5 C108.7 227.5 112.8 225.9 115.4 224.8 C118.1 223.7 120.9 222.5 122 222"/>
</g>
</g>
<path d="M69.1 166.9 L76.5 171.5 L85.8 173.3 L96.9 174.3 L104.3 174.3 L105.2 175.2 L108.9 193.7 L113.6 214.1 L115.4 221.5 L117.3 233.5 L122.8 237.2 L130.2 235.4 L137.6 235.4 L148.7 240.9 L159.9 248.3 L164.5 254.8 L163.5 258.5 L156.1 263.1 L150.6 259.4 L141.3 252 L133.9 244.6 L126.5 240.9 L122.8 239.4 L119.1 237.6 L111.7 239 L104.3 238.1 L98.7 235.4 L95 241 L89.5 239 L87.6 232.6 L82.1 237.2 L78.4 242.8 L72.8 251.5 L67.3 258.2 L61.7 263.8 L54.3 269.2 L45 272 L36 275.2 L28.4 277.5 L20 281.5 L15.4 283 L15.4 282 L19.1 280 L26.5 277 L33.9 274.2 L41.3 271.5 L46.9 268 L52.4 266.8 L58 262.2 L62.6 256.7 L63.6 250.2 L58.9 248.3 L54.3 250.2 L47.8 249.3 L49.7 246.5 L47.8 241 L43.2 239 L37.6 231.7 L38.6 226.1 L42.3 221.5 L47.8 218.7 L52.4 215.9 L54.3 211.3 L50.6 208.5 L45 207.6 L40.4 204.8 L36.7 201.1 L43.2 197.4 L48.7 196.5 L56.1 197.4 L53.4 193.7 L47.8 188.1 L45 181.7 L52.4 178.9 L56.1 174.3 L63.6 169.6Z M72.7 259.5 L75.5 255 L79 252.3 L81.3 253.5 L80.5 257 L77.5 260.5 L74.5 262.3Z M22.8 212 L26 211.3 L31.1 214.5 L30 215.9 L25 214.5Z M13.4 229.8 L15.6 230.4 L16 232.2 L14 231.6Z M31.5 236.6 L34 235.6 L37.3 237 L37 239.4 L33.5 239.9Z M68.3 269 L70 268.3 L70.6 269.6 L69 270.4Z" fill="none" stroke="#2e2e36" stroke-opacity="0.9" stroke-width="0.9" stroke-linejoin="round"/>
<path d="M126 238 L131 239.5 L136 243 L141 245.5 L146 249 L151 252 L156 256 L160 258" fill="none" stroke="#4a5a6a" stroke-opacity="0.8" stroke-width="0.6"/>
<path d="M133 238 L138 241 L143 244 L148 247.5 L153 250.5 L158 254" fill="none" stroke="#4a5a6a" stroke-opacity="0.8" stroke-width="0.6"/>
</g>
<rect x="12" y="146.5" width="163.5" height="162" fill="none" stroke="#cdcdcd" stroke-width="1"/>
<rect x="12" y="323.5" width="163.5" height="162" fill="#f5f5f5" stroke="#cdcdcd" stroke-width="1"/>
<path d="M36.2 376.8 L37.2 375 L39.4 373 L40.6 372.8 L39.8 374.6 L37.6 376.8Z" fill="#c92b35" stroke="#4a4644" stroke-opacity="0.8" stroke-width="0.7" stroke-linejoin="round"/>
<path d="M46.4 370.4 L50.4 368.1 L54.9 368.1 L56.7 371.3 L54.9 374.6 L50.4 374.9 L47.1 373.1Z" fill="#c92b35" stroke="#4a4644" stroke-opacity="0.8" stroke-width="0.7" stroke-linejoin="round"/>
<path d="M79 382.2 L82.1 383.1 L84.8 380.4 L87.6 384.9 L91.2 386.7 L92.1 389.5 L88.5 389.1 L84.8 387.3 L82.1 388.5 L80.3 385.8Z" fill="#c92b35" stroke="#4a4644" stroke-opacity="0.8" stroke-width="0.7" stroke-linejoin="round"/>
<path d="M99.7 392.2 L104.8 390.9 L111.1 391.3 L112 393.1 L106.6 394 L101.2 394Z" fill="#de8556" stroke="#4a4644" stroke-opacity="0.8" stroke-width="0.7" stroke-linejoin="round"/>
<path d="M105.7 397.6 L108.8 398.2 L109.3 400.3 L106.6 401.2 L104.8 399.4Z" fill="#de8556" stroke="#4a4644" stroke-opacity="0.8" stroke-width="0.7" stroke-linejoin="round"/>
<path d="M113 395.8 L115.7 395.3 L117.5 398.5 L122 397.6 L126.6 399.4 L127.5 402.2 L123.8 404.3 L119.3 403.6 L116.6 401.2 L113.9 399.4Z" fill="#de8556" stroke="#4a4644" stroke-opacity="0.8" stroke-width="0.7" stroke-linejoin="round"/>
<path d="M131.1 412.1 L135.6 413.9 L141.1 417.6 L146.5 423 L152.9 428.4 L151 432.1 L144.7 435.7 L139.3 440.2 L135.6 443 L132.9 440.2 L132 433 L129.3 427.5 L127.5 424.8 L130.2 419.4 L129.3 414.8Z" fill="#de8556" stroke="#4a4644" stroke-opacity="0.8" stroke-width="0.7" stroke-linejoin="round"/>
<g fill="#2a2a2a">
<text x="8.4" y="32.8" font-size="31.8" font-weight="bold" textLength="172.2" lengthAdjust="spacingAndGlyphs">Spring 2021</text>
</g>
<g fill="#333" font-size="24.4" stroke="#333" stroke-width="0.4">
<text x="70.6" y="66.8" textLength="41.4" lengthAdjust="spacingAndGlyphs">U.S.</text>
<text x="25.2" y="94.7" textLength="135.2" lengthAdjust="spacingAndGlyphs">Temperature</text>
<text x="50.6" y="124.8" textLength="82.6" lengthAdjust="spacingAndGlyphs">Outlook</text>
</g>
<text x="12.4" y="503.2" font-size="13.3" font-style="italic" fill="#6e6e6e" stroke="#6e6e6e" stroke-width="0.2" textLength="145.3" lengthAdjust="spacingAndGlyphs">AK and HI not to scale</text>
<g>
<circle cx="888.9" cy="480.7" r="30.3" fill="#ffffff"/>
<clipPath id="noaac"><circle cx="888.9" cy="480.7" r="29.3"/></clipPath>
<g clip-path="url(#noaac)">
<rect x="855" y="448" width="70" height="66" fill="#ffffff"/>
<path d="M865.4 462.2 L860 450 L918 450 L911.5 460.9 C909.5 466 908 468.5 906.9 470.7 C905 474 903.5 476.5 901.7 479.1 C900 481.5 898.5 483 896.5 484.3 C895 485.2 894 485.5 892.6 485.6 C890.8 485.5 889 485 887.4 484.3 C884.5 482.5 882 480.5 879.7 478.4 C877 476 874.5 473.5 871.9 470.7 C869.5 467.8 867.5 465 865.4 462.2 Z" fill="#2a3b8f"/>
<path d="M856 472.3 C861 474 865 476 868 478.4 C871 480.5 873.5 482.8 875.8 484.9 C878 487 879.5 488.8 881 490.8 C884 490.3 888 489.3 892 488.2 C895.5 487.2 898.5 486.6 901.1 486.2 C903.5 484.6 905.2 483 906.9 481 C909 478.6 910.6 476.4 912.1 473.9 C913.3 472 914.2 470.2 915 468.1 L922 462 L924 514 L854 514 Z" fill="#1b8fd8"/>
<path d="M880.5 491.6 C885 491 890 489.6 894.5 488 C897.5 486.9 899.6 486.3 901.3 486 L901.6 486.9 C898 487.8 894.5 489.2 891 490.6 C887.5 491.9 884 492.6 880.9 492.6 Z" fill="#ffffff"/>
</g>
<g fill="none" stroke="#ffffff" stroke-width="1.55" stroke-linejoin="round" stroke-linecap="butt">
<path d="M876.6 470 L876.6 464.6 Q876.6 463.7 877.5 463.7 L879.7 463.7 Q880.6 463.7 880.6 464.6 L880.6 470"/>
<path d="M883.6 463.7 L885.8 463.7 Q886.9 463.7 886.9 464.8 L886.9 468.2 Q886.9 469.3 885.8 469.3 L883.6 469.3 Q882.7 469.3 882.7 468.2 L882.7 464.8 Q882.7 463.7 883.6 463.7 Z"/>
<path d="M889 470 L889 464.6 Q889 463.7 889.9 463.7 L892.1 463.7 Q893 463.7 893 464.6 L893 470 M889 467.3 L893 467.3"/>
<path d="M895.2 470 L895.2 464.6 Q895.2 463.7 896.1 463.7 L898.3 463.7 Q899.2 463.7 899.2 464.6 L899.2 470 M895.2 467.3 L899.2 467.3"/>
</g>
</g>
</g>
<defs><linearGradient id="strip" x1="0" y1="0" x2="0" y2="1"><stop offset="0" stop-color="#eef2f6"/><stop offset="0.17" stop-color="#e8ebee"/><stop offset="0.19" stop-color="#9a9a90"/><stop offset="0.22" stop-color="#55553f"/><stop offset="0.6" stop-color="#4a4a32"/><stop offset="1" stop-color="#50503a"/></linearGradient></defs>
<rect x="929.5" y="0" width="1.4" height="524" fill="#fbfbf7"/>
<rect x="930.8" y="0" width="1.2" height="524" fill="url(#strip)"/>
</svg></body></html>
